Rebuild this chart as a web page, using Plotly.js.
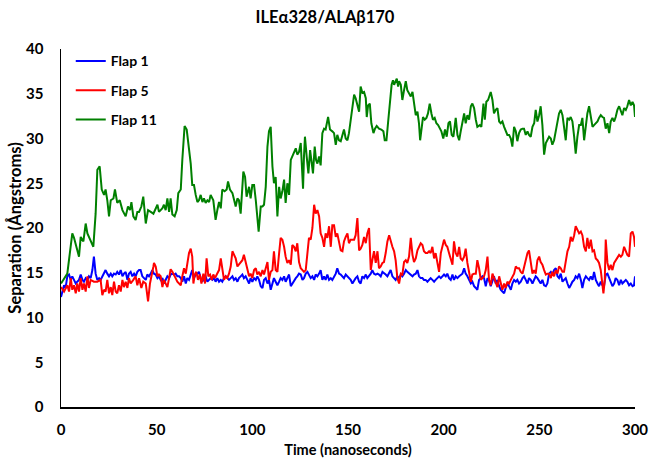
<!DOCTYPE html>
<html>
<head>
<meta charset="utf-8">
<script src="https://cdn.plot.ly/plotly-3.0.1.min.js"></script>
<style>html,body{margin:0;padding:0;background:#fff;}#chart{width:650px;height:460px;}</style>
</head>
<body>
<div id="chart"></div>
<script>
// Series names
const seriesNames = ["Flap 1", "Flap 5", "Flap 11"];
const seriesColors = ["#0000FF", "#FF0000", "#008000"];

// Flap 1 (blue): time (ns) and separation (Å)
const flap1Time = [
0,0.7,1.6,2.4,3.3,4.2,5.1,5.9,6.8,7.7,8.5,9.4,10.3,11.2,12.0,12.9,13.8,14.6,15.5,16.4,17.2,18.1,19.0,19.9,20.7,21.6,22.5,23.3,24.2,25.1,26.0,26.8,27.7,28.6,29.4,30.3,31.2,32.1,32.9,33.8,34.7,35.5,36.4,37.3,38.2,39.0,39.9,40.8,41.6,42.5,43.4,44.3,45.1,46.0,46.9,47.7,
48.6,49.5,50.4,51.2,52.1,53.0,53.8,54.7,55.6,56.5,57.3,58.2,59.1,59.9,60.8,61.7,62.6,63.4,64.3,65.2,66.0,66.9,67.8,68.6,69.5,70.4,71.3,72.1,73.0,73.9,74.7,75.6,76.5,77.4,78.2,79.1,80.0,80.8,81.7,82.6,83.5,84.3,85.2,86.1,86.9,87.8,88.7,89.6,90.4,91.3,92.2,93.0,93.9,94.8,95.6,96.5,97.4,98.3,99.1,100.0,
100.9,101.8,102.6,103.5,104.4,105.3,106.1,107.0,107.9,108.7,109.6,110.5,111.3,112.2,113.1,114.0,114.8,115.7,116.6,117.4,118.3,119.2,120.1,120.9,121.8,122.7,123.5,124.4,125.3,126.2,127.0,127.9,128.8,129.6,130.5,131.4,132.3,133.1,134.0,134.9,135.7,136.6,137.5,138.3,139.2,140.1,141.0,141.8,142.7,143.6,144.4,145.3,146.2,147.1,147.9,148.8,149.7,150.5,151.4,152.3,
153.2,154.0,154.9,155.8,156.6,157.5,158.4,159.3,160.1,161.0,161.9,162.7,163.6,164.5,165.4,166.2,167.1,168.0,168.8,169.7,170.6,171.5,172.3,173.2,174.1,174.9,175.8,176.7,177.6,178.4,179.3,180.2,181.0,181.9,182.8,183.7,184.5,185.4,186.3,187.1,188.0,188.9,189.7,190.6,191.5,192.4,193.2,194.1,195.0,195.8,196.7,197.6,198.5,199.3,200.2,201.1,201.9,202.8,203.7,204.6,
205.4,206.3,207.2,208.1,208.9,209.8,210.7,211.5,212.4,213.3,214.2,215.0,215.9,216.8,217.6,218.5,219.4,220.3,221.1,222.0,222.9,223.7,224.6,225.5,226.3,227.2,228.1,229.0,229.8,230.7,231.6,232.4,233.3,234.2,235.1,235.9,236.8,237.7,238.5,239.4,240.3,241.2,242.0,242.9,243.8,244.6,245.5,246.4,247.3,248.1,249.0,249.9,250.7,251.6,252.5,253.4,254.2,
255.1,256.0,256.8,257.7,258.6,259.5,260.3,261.2,262.1,262.9,263.8,264.7,265.6,266.4,267.3,268.2,269.0,269.9,270.8,271.7,272.5,273.4,274.3,275.1,276.0,276.9,277.8,278.6,279.5,280.4,281.2,282.1,283.0,283.8,284.7,285.6,286.5,287.3,288.2,289.1,289.9,290.8,291.7,292.6,293.4,294.3,295.2,296.0,296.9,297.8,298.7,299.5,300
];
const flap1Sep = [
12.3,12.9,13.6,13.3,14.6,14.8,14.2,14.6,14.2,13.8,14.0,14.2,14.8,14.2,14.0,14.4,14.2,14.6,14.4,15.3,16.8,14.9,14.2,14.4,14.2,14.6,15.1,15.3,14.9,14.6,14.9,14.6,14.9,14.8,15.1,14.8,15.3,14.6,14.9,15.1,14.2,14.9,15.1,14.6,14.9,14.6,15.1,15.3,15.3,14.6,14.4,14.2,14.8,14.6,14.9,15.3,
14.9,14.8,14.4,14.6,14.2,14.4,13.8,14.2,14.6,14.4,14.8,14.9,14.8,14.9,14.6,14.6,14.4,14.0,14.6,13.8,14.4,14.2,14.9,15.3,14.4,14.8,14.9,15.1,14.4,14.0,14.4,14.6,14.0,14.2,14.4,14.2,14.4,14.0,14.4,14.0,14.2,14.0,14.4,14.6,14.4,14.2,14.4,14.6,14.2,14.4,14.0,14.4,14.6,14.8,14.4,14.6,14.2,13.8,14.4,14.0,
14.4,14.2,14.6,14.2,13.5,13.3,14.2,14.4,13.8,14.2,13.1,13.8,14.4,14.0,13.6,14.0,14.4,14.2,14.6,14.0,14.4,14.8,13.5,13.8,14.2,14.4,14.6,14.9,14.8,14.2,14.4,14.9,15.1,14.8,14.4,14.6,14.2,14.8,14.6,14.9,15.3,14.2,14.6,14.2,14.8,14.2,14.4,14.2,14.6,14.9,15.5,14.9,14.8,14.6,14.4,14.8,14.6,14.4,14.2,13.8,
14.2,14.4,14.6,14.0,13.8,14.6,14.4,14.8,14.4,14.6,14.9,15.3,14.9,14.8,14.9,14.8,14.6,15.1,14.9,14.8,14.6,14.9,15.3,14.6,14.4,14.2,14.6,14.4,14.8,14.6,14.9,15.3,15.1,14.9,14.8,14.6,14.8,14.9,15.3,14.6,14.4,14.4,14.2,14.2,14.0,14.2,14.4,14.2,14.0,14.2,14.4,14.6,14.4,14.6,14.8,14.6,14.9,14.4,14.2,14.8,
14.2,14.6,14.4,14.6,14.8,14.9,15.5,14.9,14.6,14.2,13.8,14.0,13.5,13.3,13.1,14.2,14.4,14.6,14.4,13.5,14.4,14.2,13.5,14.0,14.6,13.8,14.2,13.5,13.1,12.9,12.7,13.3,13.8,13.5,13.1,13.8,14.2,14.0,14.2,13.8,14.0,14.4,14.6,14.2,13.8,14.4,14.2,13.8,14.2,14.6,14.4,14.0,13.8,14.2,13.6,13.5,13.8,
14.9,15.1,14.8,15.3,15.5,14.6,14.4,14.9,14.0,14.2,14.4,13.8,13.3,13.6,14.0,14.2,14.6,14.4,14.9,14.2,13.3,14.2,14.6,14.4,14.2,14.6,14.2,15.1,14.2,13.8,13.5,14.0,13.6,13.5,14.8,14.9,14.4,14.0,13.5,13.8,14.4,14.2,13.6,14.2,13.8,14.0,14.2,14.0,13.6,13.8,13.5,13.6,14.6
];

// Flap 5 (red)
const flap5Time = [
0,1.6,3.3,4.2,5.1,5.9,6.8,7.7,8.5,9.4,10.3,11.2,12.0,12.9,13.8,14.6,15.5,17.2,19.0,20.7,21.6,22.5,23.3,24.2,25.1,26.0,26.8,27.7,28.6,29.4,30.3,31.2,32.1,32.9,33.8,34.7,35.5,36.4,37.8,39.0,39.9,40.8,42.0,43.0,44.3,45.5,46.5,47.4,48.3,
48.6,49.5,50.4,51.2,52.1,53.0,53.8,54.7,55.6,56.5,57.3,58.2,59.1,59.9,60.8,61.7,62.6,63.4,64.3,65.2,66.0,66.9,67.8,68.6,69.2,69.9,70.7,71.6,72.5,73.4,74.4,75.3,76.1,77.0,77.9,78.8,79.6,80.5,81.4,82.6,83.5,84.3,85.2,86.1,86.9,87.8,88.7,89.6,90.4,91.3,92.2,93.0,93.9,94.8,95.6,96.5,97.4,98.3,99.1,100.0,
100.9,101.8,102.6,103.5,104.4,105.3,106.1,107.0,107.9,108.7,109.6,110.5,111.3,112.2,113.1,114.0,114.8,115.7,116.6,117.4,118.3,119.2,120.1,120.9,121.8,122.7,123.5,124.4,125.3,126.2,127.0,127.9,128.8,129.6,130.5,131.4,132.3,133.1,134.0,134.9,135.7,136.6,137.5,138.3,139.2,140.1,141.0,141.8,142.7,143.6,144.4,145.3,146.2,147.1,147.9,148.8,149.7,150.5,151.4,152.3,
153.2,154.0,154.9,155.8,156.6,157.5,158.4,159.3,160.1,161.0,161.9,162.7,163.6,164.5,165.4,166.2,167.1,168.0,168.8,169.7,170.6,171.5,172.3,173.2,174.1,174.9,175.8,176.7,177.6,178.4,179.3,180.2,181.0,181.9,182.8,183.7,184.5,185.4,186.3,187.1,188.0,188.9,189.7,190.6,191.5,192.4,193.2,194.1,195.0,195.8,196.7,197.6,198.5,199.3,200.2,201.1,201.9,202.8,203.7,204.6,
205.4,206.3,207.2,208.1,208.9,209.8,210.7,211.5,212.4,213.3,214.2,215.0,215.9,216.8,217.6,218.5,219.4,220.3,221.1,222.0,222.9,223.7,224.6,225.5,226.3,227.2,228.1,229.0,229.8,230.7,231.6,232.4,233.3,234.2,235.1,235.9,236.8,237.7,238.5,239.4,240.3,241.2,242.0,242.9,243.8,244.6,245.5,246.4,247.3,248.1,249.0,249.9,250.7,251.6,252.5,253.4,254.2,
255.1,256.0,256.8,257.7,258.6,259.5,260.3,261.2,262.1,262.9,263.8,264.7,265.6,266.4,267.3,268.2,269.0,269.9,270.8,271.7,272.5,273.4,274.3,275.1,276.0,276.9,277.8,278.6,279.5,280.4,281.2,282.1,283.0,283.5,284.2,284.7,285.6,286.5,287.3,288.2,289.1,289.9,290.8,291.7,292.6,293.4,294.3,295.2,296.0,296.9,297.8,298.7,299.5,300
];
const flap5Sep = [
13.4,12.9,13.6,12.9,14.4,13.1,13.6,12.7,13.8,12.9,14.4,13.1,13.8,12.9,14.6,13.3,14.2,14.0,14.0,14.2,12.5,13.1,12.9,14.2,12.7,13.4,12.5,14.0,12.9,12.7,13.6,12.9,14.2,13.4,14.0,13.3,14.4,13.8,14.2,14.6,13.6,14.4,13.3,14.0,13.8,11.8,13.8,14.6,15.7,
16.1,15.7,14.6,14.8,14.6,13.4,14.2,13.8,13.4,14.4,15.4,15.1,14.8,14.4,14.0,13.8,13.6,14.6,15.5,14.9,16.1,17.2,17.7,16.8,13.8,14.8,15.1,14.2,14.8,13.8,14.9,13.8,16.6,14.6,14.8,14.2,14.8,14.4,14.8,15.3,16.6,15.3,14.2,14.6,14.4,14.9,15.7,17.4,17.0,16.6,15.7,15.9,16.2,16.4,17.0,16.2,15.3,14.6,14.9,14.4,
15.3,15.5,14.8,15.1,14.6,15.3,14.8,15.7,16.2,14.2,15.1,15.3,17.4,15.3,15.1,17.2,18.9,18.7,17.9,16.8,16.1,16.4,15.9,18.1,17.9,17.4,18.3,16.2,15.5,15.3,15.1,15.3,17.2,18.9,18.7,20.0,22.6,21.6,22.0,21.3,19.4,18.9,17.9,19.4,18.9,20.2,17.9,20.3,20.3,19.0,19.4,18.3,17.5,17.4,18.5,19.0,19.4,18.3,18.7,18.7,
18.7,19.2,21.1,17.5,17.7,18.1,19.0,18.3,19.4,20.0,15.3,16.4,17.4,16.1,17.4,15.5,15.7,16.1,16.2,17.2,18.5,19.2,18.5,17.9,17.4,16.4,14.4,13.8,14.9,14.8,16.2,16.4,16.1,16.8,18.9,17.0,16.2,16.6,17.5,17.9,18.3,18.1,17.4,17.2,17.2,17.4,17.2,17.9,16.6,17.2,16.1,15.1,17.2,17.9,18.7,18.1,17.9,17.2,16.4,15.9,
18.5,17.2,16.8,17.9,16.6,16.4,16.8,17.7,16.1,14.9,14.0,14.8,14.9,14.9,16.4,15.5,14.2,14.4,14.6,15.3,16.8,14.2,13.6,14.9,14.4,13.8,13.4,14.6,14.0,13.1,13.8,13.3,14.0,13.8,14.2,14.6,14.9,15.7,15.5,15.5,15.1,14.9,15.7,16.4,17.2,17.5,16.2,14.9,15.3,14.9,16.4,16.8,16.2,15.9,15.3,14.8,14.9,
14.9,14.4,15.1,14.6,15.3,14.9,15.7,15.5,15.1,15.1,16.4,17.4,17.9,19.0,18.5,19.2,20.2,19.8,19.4,19.6,19.2,17.9,17.4,18.9,17.7,18.7,17.4,17.5,16.6,16.4,16.1,15.3,13.8,12.7,14.2,18.7,16.1,15.3,15.9,15.3,16.1,16.4,16.8,17.0,16.8,17.0,17.9,17.5,17.0,16.8,19.4,19.6,19.0,17.9
];

// Flap 11 (green)
const flap11Time = [
0,3.3,5.9,6.8,9.4,10.3,11.7,12.9,13.8,14.6,15.9,16.9,18.1,19.0,20.2,21.3,22.5,23.3,24.2,25.1,26.0,27.4,28.2,29.4,30.7,32.1,33.8,35.0,36.1,36.8,37.8,39.0,39.9,40.8,42.0,43.0,44.3,45.5,46.9,48.3,
50.4,51.2,52.1,53.0,53.8,54.7,55.6,56.5,57.3,58.2,59.4,60.5,61.3,62.6,63.4,64.6,65.7,66.9,67.8,68.6,69.5,70.4,71.3,72.1,73.0,73.9,74.7,75.6,76.5,77.4,78.2,79.6,80.8,81.7,82.6,83.5,84.3,85.5,86.6,87.3,88.3,89.6,90.4,91.3,92.2,93.0,93.9,95.3,96.2,97.0,98.3,99.1,100.0,
100.9,101.8,102.6,103.3,104.4,105.3,106.1,107.0,107.9,108.7,109.6,110.5,111.3,112.2,113.1,114.0,114.8,115.7,116.6,117.4,118.3,119.2,120.1,120.9,121.8,122.7,123.5,124.4,125.3,126.5,127.0,127.5,128.4,129.3,130.2,130.9,131.7,132.6,133.3,134.0,134.9,135.7,136.6,137.5,138.3,139.6,140.6,141.8,142.7,143.6,144.4,145.3,146.2,147.1,147.9,148.8,149.7,150.5,151.4,152.3,
153.2,154.0,154.9,155.8,156.6,157.5,158.4,159.3,159.8,160.5,161.4,162.2,163.3,164.1,165.0,166.2,167.4,168.5,169.2,170.1,170.9,172.0,172.8,173.5,174.1,174.9,175.5,176.2,176.7,177.6,178.4,179.3,180.2,181.0,181.9,182.8,183.7,184.5,185.4,186.3,187.1,187.7,188.4,189.2,190.1,191.0,191.8,192.7,193.6,194.4,195.3,196.2,197.1,197.9,198.8,199.8,200.7,201.6,202.5,203.3,204.2,205.1,
206.3,207.2,208.1,208.9,209.8,210.7,211.5,212.4,213.3,214.2,215.0,215.9,216.8,217.6,218.9,219.7,220.8,221.5,222.3,223.2,224.6,225.5,226.3,227.2,228.1,229.0,229.8,230.7,231.6,232.4,233.3,234.2,235.1,235.9,236.8,237.7,238.5,239.4,240.3,241.2,242.0,242.9,243.8,244.6,245.5,246.4,247.3,248.1,249.0,249.9,250.7,251.6,252.5,253.4,254.2,
255.1,256.0,256.8,257.7,258.6,259.5,260.3,261.2,262.1,262.9,263.8,264.7,265.6,266.4,267.3,268.2,269.0,269.9,270.8,271.7,272.5,273.4,274.3,275.1,276.0,276.9,277.8,278.6,279.5,280.4,281.2,282.1,283.0,283.8,284.7,285.6,286.5,287.3,288.2,289.1,289.9,290.8,291.7,292.6,293.4,294.3,295.2,296.0,296.9,297.8,298.7,299.5,300
];
const flap11Sep = [
13.8,14.9,19.4,18.9,16.8,19.0,18.5,20.5,19.4,19.0,18.3,17.9,21.6,26.5,26.9,24.3,23.7,24.3,23.1,21.3,23.1,23.3,24.3,22.8,23.1,22.0,21.3,22.4,22.0,22.9,21.3,20.9,21.8,21.8,22.4,23.5,20.5,22.0,21.8,21.6,
22.6,21.8,22.0,22.2,22.6,22.0,23.3,21.8,23.3,21.5,21.3,22.0,23.9,24.3,27.6,31.4,31.0,28.7,27.2,24.8,24.8,23.7,22.9,23.1,23.7,22.9,23.3,22.8,23.1,22.9,23.7,23.1,20.9,22.0,22.9,22.2,24.3,24.1,24.3,25.2,24.3,23.9,23.3,22.4,23.3,23.1,21.6,26.3,25.7,23.5,24.6,23.3,24.8,
24.8,23.1,20.9,19.6,22.4,22.4,22.6,24.6,29.1,30.8,31.3,26.9,25.0,25.7,21.3,24.6,23.3,24.1,25.4,22.8,25.0,23.7,27.6,28.0,28.3,28.9,28.2,28.5,29.5,24.4,28.0,30.2,28.0,26.1,28.7,27.6,26.1,29.1,27.6,27.2,28.0,27.0,30.6,31.1,31.0,32.4,31.0,30.8,30.6,29.3,30.4,29.8,29.7,30.4,31.0,30.0,29.8,30.6,32.1,33.9,
34.9,34.5,33.6,33.0,35.8,35.1,35.2,34.5,32.4,33.7,33.9,31.7,30.6,31.1,31.4,31.1,31.0,30.8,29.8,29.8,31.7,34.3,36.0,36.5,36.0,36.4,36.7,35.8,36.4,36.0,34.3,35.4,36.4,35.4,35.1,34.7,35.2,33.9,32.6,33.0,31.7,29.8,31.3,32.4,32.1,32.3,32.8,33.9,32.8,32.1,32.3,31.7,31.5,31.1,30.8,30.0,31.0,30.2,31.7,31.9,30.4,30.2,
32.3,30.4,29.8,30.8,31.9,32.8,31.7,32.6,32.1,33.6,33.9,33.4,32.1,31.3,31.5,31.3,33.9,32.1,34.1,34.3,35.2,34.3,32.8,33.2,33.4,31.9,31.7,31.9,31.3,30.8,30.4,30.4,30.0,29.1,31.3,30.8,29.7,30.6,31.0,31.1,31.1,30.4,30.8,30.4,30.2,31.3,31.7,33.2,31.9,32.6,33.6,31.5,28.2,29.5,29.8,
30.2,30.0,29.3,29.8,30.8,31.7,32.8,33.2,32.6,31.3,29.8,32.3,32.1,32.4,31.9,30.2,28.3,30.2,31.5,31.5,32.3,29.8,31.7,32.8,33.6,32.4,31.3,31.5,31.7,31.9,32.3,32.6,32.4,32.3,31.1,31.7,30.6,31.9,32.3,31.9,32.4,33.2,33.6,33.0,32.6,33.4,33.2,33.6,34.3,33.7,34.1,33.7,32.4
];

// Axis ticks
const xTicks = [0, 50, 100, 150, 200, 250, 300];
const yTicks = [0, 5, 10, 15, 20, 25, 30, 35, 40];

const FONT = "Lato, 'Open Sans', 'Liberation Sans', sans-serif";
const times = [flap1Time, flap5Time, flap11Time];
const seps = [flap1Sep, flap5Sep, flap11Sep];

const traces = seriesNames.map((name, i) => ({
  type: "scatter",
  mode: "lines",
  name: name,
  x: times[i],
  y: seps[i],
  legendgroup: "g" + i,
  line: {color: seriesColors[i], width: 2}
}));

const layout = {
  width: 650,
  height: 460,
  margin: {l: 61, r: 15, t: 49, b: 53},
  paper_bgcolor: "#ffffff",
  plot_bgcolor: "#ffffff",
  font: {family: FONT, color: "#000000", size: 15, weight: "bold"},
  title: {
    text: "ILEα328/ALAβ170",
    font: {family: FONT, size: 16.5, color: "#000000", weight: "bold"},
    x: 0.5, xanchor: "center", xref: "container",
    y: 0.962, yanchor: "middle", yref: "container"
  },
  showlegend: true,
  legend: {
    x: 0.017, y: 1.01, xanchor: "left", yanchor: "top",
    bgcolor: "rgba(0,0,0,0)",
    traceorder: "grouped",
    tracegroupgap: 8,
    font: {family: FONT, size: 14, color: "#000000", weight: "bold"},
    itemwidth: 30
  },
  xaxis: {
    range: [0, 300],
    tickmode: "array",
    tickvals: xTicks,
    ticktext: xTicks.map(String),
    showgrid: false,
    zeroline: false,
    showline: true,
    linecolor: "#000000",
    linewidth: 1.5,
    ticks: "",
    ticklabelstandoff: 8,
    tickfont: {family: FONT, size: 15, color: "#000000", weight: "bold"},
    title: {text: "Time (nanoseconds)", font: {family: FONT, size: 14.5, color: "#000000", weight: "bold"}, standoff: 8}
  },
  yaxis: {
    range: [0, 40],
    tickmode: "array",
    tickvals: yTicks,
    ticktext: yTicks.map(String),
    showgrid: false,
    zeroline: false,
    showline: true,
    linecolor: "#000000",
    linewidth: 1.5,
    ticks: "",
    ticklabelstandoff: 13,
    tickfont: {family: FONT, size: 15, color: "#000000", weight: "bold"},
    title: {text: "Separation (Ångstroms)", font: {family: FONT, size: 16.5, color: "#000000", weight: "bold"}, standoff: 0}
  }
};

Plotly.newPlot("chart", traces, layout, {displayModeBar: false, staticPlot: true});
</script>
</body>
</html>
